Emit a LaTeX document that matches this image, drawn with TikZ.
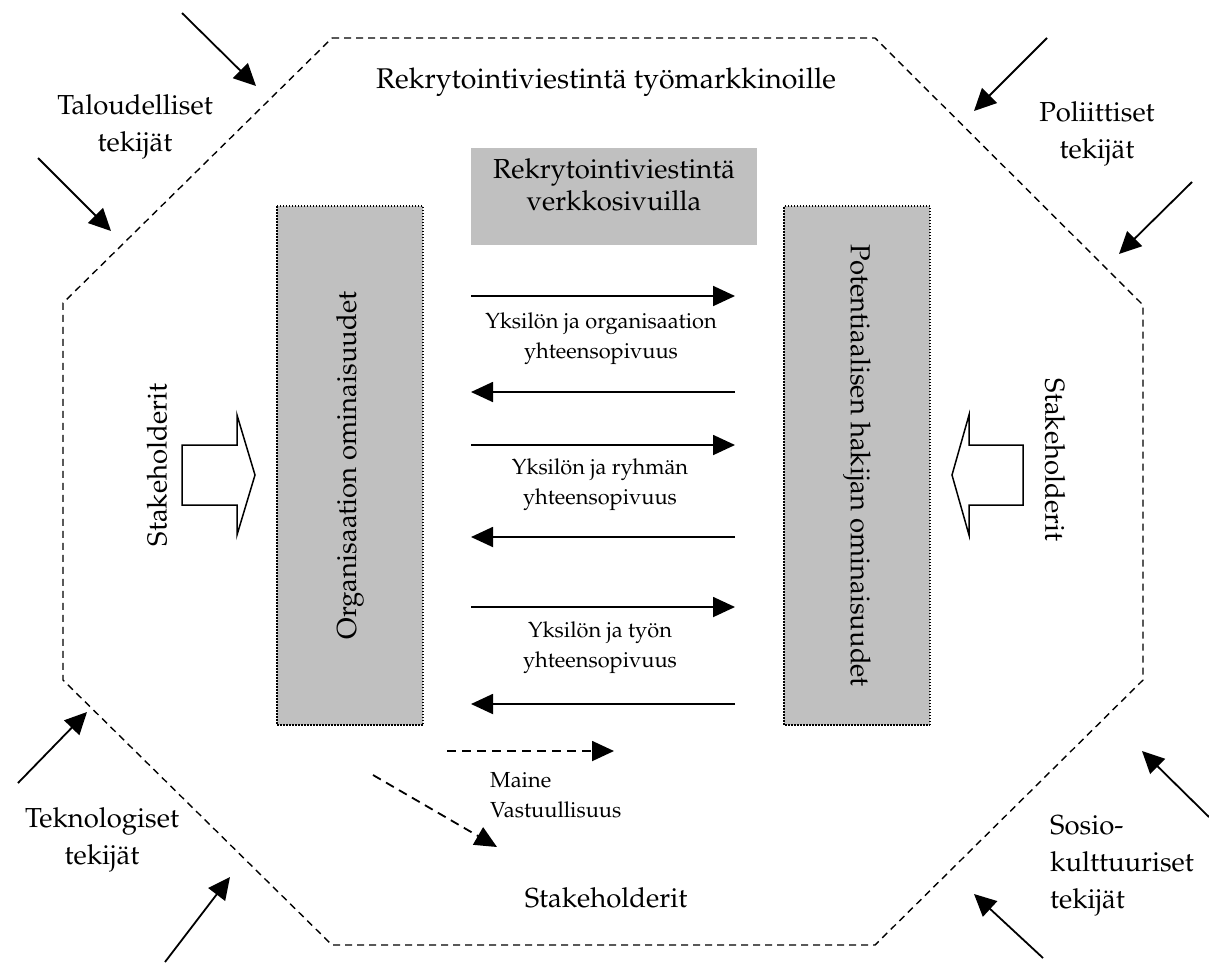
\documentclass[tikz,border=0pt]{standalone}
\usepackage[T1]{fontenc}
\renewcommand{\rmdefault}{ppl}
\usetikzlibrary{arrows.meta}
\definecolor{boxgray}{RGB}{192,192,192}
\begin{document}
\begin{tikzpicture}[x=1pt,y=-1pt,
  big/.style={font=\fontsize{27.5}{37}\selectfont, align=center, inner sep=0pt},
  title/.style={font=\fontsize{28.5}{37}\selectfont, align=center, inner sep=0pt},
  small/.style={font=\fontsize{21.8}{30}\selectfont, align=center, inner sep=0pt},
  octo/.style={draw, line width=1.4pt, dash pattern=on 7pt off 5pt},
  graybox/.style={fill=boxgray, draw=black, line width=1.8pt, dash pattern=on 1.5pt off 1.5pt, inner sep=0pt},
  flow/.style={line width=1.8pt, -{Triangle[length=22pt,width=20pt]}},
  dflow/.style={flow, dash pattern=on 9pt off 6pt},
  force/.style={line width=1.8pt, -{Triangle[length=22pt,width=21pt]}},
  block/.style={draw, line width=1.5pt, fill=white, line join=miter}]
\useasboundingbox (0,0) rectangle (1209,962);

% outer octagon
\draw[octo] (332,38) -- (875,38) -- (1143,305) -- (1143,680) -- (875,945) -- (332,945) -- (63,680) -- (63,303) -- cycle;

% labels
\node[title] (market) at (606,82) {Rekrytointiviestintä työmarkkinoille};
\node[big] (talous) at (135,127) {Taloudelliset\\tekijät};
\node[big] (poli) at (1097,134) {Poliittiset\\tekijät};
\node[big] (tekno) at (102,840) {Teknologiset\\tekijät};
\node[big, align=left, anchor=west] (sosio) at (1050,866) {Sosio-\\kulttuuriset\\tekijät};
\node[big] (stakeB) at (606,898) {Stakeholderit};
\node[big, rotate=90] (stakeL) at (157,465) {Stakeholderit};
\node[big, rotate=-90] (stakeR) at (1055,460) {Stakeholderit};

% boxes
\node[fill=boxgray, minimum width=286pt, minimum height=97pt, inner sep=0pt] (web) at (614,196.5) {};
\node[big, font=\fontsize{27.5}{32}\selectfont] (webtext) at (614,185) {Rekrytointiviestintä\\verkkosivuilla};
\node[big, graybox, rotate=90, minimum width=519pt, minimum height=146pt] (org) at (350,465.5) {Organisaation ominaisuudet};
\node[big, graybox, rotate=-90, minimum width=519pt, minimum height=146pt] (hak) at (857,465.5) {Potentiaalisen hakijan ominaisuudet};

% middle arrows
\coordinate (r1s) at (471,296); \coordinate (r1e) at (735,296);
\coordinate (l1s) at (735,392); \coordinate (l1e) at (471,392);
\coordinate (r2s) at (471,445); \coordinate (r2e) at (735,445);
\coordinate (l2s) at (735,537); \coordinate (l2e) at (471,537);
\coordinate (r3s) at (471,607); \coordinate (r3e) at (735,607);
\coordinate (l3s) at (735,704); \coordinate (l3e) at (471,704);
\draw[flow] (r1s) -- (r1e);
\draw[flow] (l1s) -- (l1e);
\draw[flow] (r2s) -- (r2e);
\draw[flow] (l2s) -- (l2e);
\draw[flow] (r3s) -- (r3e);
\draw[flow] (l3s) -- (l3e);
\node[small] (fit1) at (601,339) {Yksilön ja organisaation\\yhteensopivuus};
\node[small] (fit2) at (600,485) {Yksilön ja ryhmän\\yhteensopivuus};
\node[small] (fit3) at (600,648) {Yksilön ja työn\\yhteensopivuus};

% reputation arrows
\coordinate (d1s) at (447,751); \coordinate (d1e) at (614,751);
\coordinate (d2s) at (373,775); \coordinate (d2e) at (497,847);
\draw[dflow] (d1s) -- (d1e);
\draw[dflow] (d2s) -- (d2e);
\node[small, align=left, anchor=west] (maine) at (490,795) {Maine\\Vastuullisuus};

% outer force arrows
\coordinate (f1s) at (182,13);   \coordinate (f1e) at (256,86);
\coordinate (f2s) at (38,158);   \coordinate (f2e) at (111,231);
\coordinate (f3s) at (1047,38);  \coordinate (f3e) at (974,111);
\coordinate (f4s) at (1192,182); \coordinate (f4e) at (1119,254);
\coordinate (f5s) at (18,783);   \coordinate (f5e) at (87,712);
\coordinate (f6s) at (165,962);  \coordinate (f6e) at (230,877);
\coordinate (f7s) at (1209,817); \coordinate (f7e) at (1142,751);
\coordinate (f8s) at (1043,958); \coordinate (f8e) at (974,894);
\foreach \i in {1,...,8} {\draw[force] (f\i s) -- (f\i e);}

% stakeholder block arrows
\draw[block] (182,445) -- (237,445) -- (237,415) -- (255,475) -- (237,535) -- (237,505) -- (182,505) -- cycle;
\draw[block] (1023,445) -- (969,445) -- (969,415) -- (952,475) -- (969,535) -- (969,505) -- (1023,505) -- cycle;
\end{tikzpicture}
\end{document}
